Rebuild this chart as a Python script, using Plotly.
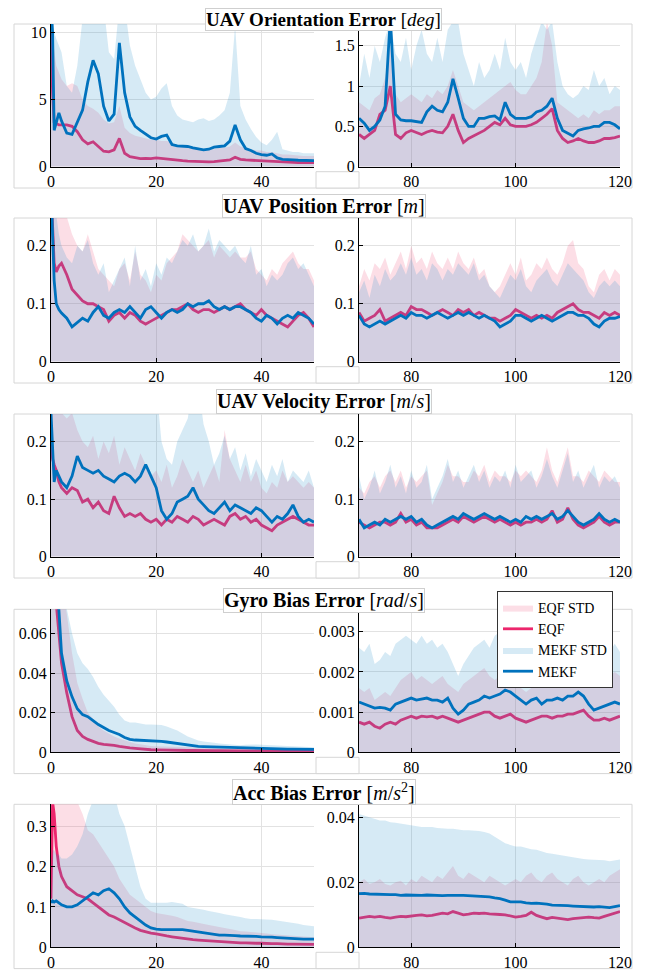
import plotly.graph_objects as go

# ---------------- time grids ----------------
TL = [0, 0.3, 0.6, 1, 1.5, 2, 3, 4, 5, 6, 7, 8, 9, 10,
      11, 12, 13, 14, 15, 16, 17, 18, 19, 20,
      21, 22, 23, 24, 25, 26, 27, 28, 29, 30,
      31, 32, 33, 34, 35, 36, 37, 38, 39, 40,
      41, 42, 43, 44, 45, 46, 47, 48, 49, 50]
TR = [70, 71, 72, 73, 74, 75, 76, 77, 78, 79,
      80, 81, 82, 83, 84, 85, 86, 87, 88, 89,
      90, 91, 92, 93, 94, 95, 96, 97, 98, 99,
      100, 101, 102, 103, 104, 105, 106, 107, 108, 109,
      110, 111, 112, 113, 114, 115, 116, 117, 118, 119,
      120]

# ---------------- UAV orientation error [deg] ----------------
ori_L_eqf_std = [10.5, 9.5, 8.5, 7.5, 7.0,
                 6.5, 6.0, 6.2, 6.0, 5.0, 4.5, 4.3, 4.0, 3.5,
                 3.2, 3.3, 4.5, 2.9, 2.5, 2.3, 2.2, 2.1, 2.0, 2.0,
                 1.9, 1.9, 1.8, 1.6, 1.5, 1.5, 1.4, 1.4, 1.3, 1.3,
                 1.3, 1.4, 1.4, 1.5, 1.8, 1.5, 1.4, 1.3, 1.2, 1.2,
                 1.1, 1.1, 1.0, 0.9, 0.9, 0.85, 0.85, 0.8, 0.8, 0.8]
ori_L_eqf = [10.0, 5.5, 3.3, 3.2, 3.1,
             3.1, 3.1, 3.0, 2.6, 2.0, 1.7, 1.85, 1.5, 1.15,
             1.1, 1.25, 2.1, 1.0, 0.75, 0.65, 0.6, 0.62, 0.6, 0.65,
             0.6, 0.58, 0.55, 0.5, 0.45, 0.42, 0.4, 0.38, 0.37, 0.36,
             0.38, 0.42, 0.45, 0.5, 0.7, 0.55, 0.5, 0.48, 0.45, 0.45,
             0.42, 0.4, 0.35, 0.32, 0.3, 0.3, 0.3, 0.3, 0.3, 0.3]
ori_L_mekf_std = [12, 11, 10, 9.5, 9,
                  8.5, 6, 5.5, 7.5, 11, 12, 12, 12, 12,
                  8.5, 8, 12, 12, 9, 7.5, 6.5, 5.5, 5, 5.2,
                  5.8, 6.2, 4.5, 3.8, 3.5, 3.4, 3.3, 3.5, 3.6, 3.4,
                  3.5, 3.8, 4.2, 5.5, 10.5, 4.5, 3.5, 2.8, 2.2, 1.8,
                  1.6, 2.0, 2.6, 1.3, 1.2, 1.1, 1.1, 1.0, 1.0, 1.0]
ori_L_mekf = [12, 10, 2.7, 3.2, 4.0,
              3.4, 2.5, 2.4, 3.3, 4.2, 6.3, 7.9, 6.9, 4.5,
              3.4, 3.9, 9.2, 5.5, 3.7, 3.0, 2.7, 2.4, 2.15, 2.05,
              2.25, 2.35, 1.65, 1.55, 1.55, 1.5, 1.4, 1.3, 1.25, 1.3,
              1.45, 1.5, 1.55, 1.9, 3.1, 2.0, 1.35, 1.2, 1.0, 0.9,
              0.85, 0.95, 0.65, 0.55, 0.5, 0.5, 0.48, 0.47, 0.45, 0.45]

ori_R_eqf_std = [0.8, 0.75, 0.7, 0.85, 0.9, 1.1, 1.5, 0.9, 0.8, 0.85,
                 0.9, 0.85, 0.8, 0.9, 0.85, 0.95, 0.9, 1.0, 1.2, 1.0,
                 0.8, 0.75, 0.7, 0.75, 0.8, 0.85, 0.9, 0.95, 1.0, 1.05,
                 0.95, 0.9, 0.9, 1.0, 1.1, 1.3, 1.8, 1.5, 0.8, 0.75,
                 0.7, 0.65, 0.6, 0.65, 0.6, 0.7, 0.65, 0.7, 0.7, 0.75,
                 0.75]
ori_R_eqf = [0.4, 0.35, 0.4, 0.45, 0.65, 0.7, 1.0, 0.4, 0.35, 0.42,
             0.45, 0.42, 0.4, 0.43, 0.45, 0.43, 0.42, 0.5, 0.65, 0.45,
             0.3, 0.35, 0.38, 0.42, 0.45, 0.5, 0.55, 0.52, 0.6, 0.52,
             0.5, 0.5, 0.5, 0.52, 0.55, 0.6, 0.65, 0.72, 0.45, 0.35,
             0.3, 0.32, 0.35, 0.32, 0.3, 0.3, 0.32, 0.35, 0.35, 0.36,
             0.38]
ori_R_mekf_std = [1.0, 1.4, 1.1, 1.5, 1.3, 1.6, 1.8, 1.4, 1.3, 1.6,
                  1.2, 1.5, 1.7, 1.4, 1.3, 1.6, 1.3, 1.7, 1.8, 1.8,
                  1.4, 1.2, 1.0, 1.3, 1.1, 1.2, 1.4, 1.2, 1.6, 1.3,
                  1.2, 1.3, 1.1, 1.4, 1.6, 1.8, 1.7, 1.8, 1.3, 1.0,
                  0.9, 0.85, 0.9, 1.0, 0.95, 1.2, 1.0, 1.1, 0.9, 1.0,
                  0.95]
ori_R_mekf = [0.6, 0.54, 0.45, 0.5, 0.58, 0.75, 1.85, 0.65, 0.58, 0.57,
              0.57, 0.56, 0.55, 0.68, 0.75, 0.7, 0.68, 0.8, 1.09, 0.85,
              0.6, 0.5, 0.5, 0.6, 0.6, 0.62, 0.63, 0.58, 0.8, 0.65,
              0.6, 0.6, 0.6, 0.62, 0.68, 0.7, 0.75, 0.85, 0.6, 0.45,
              0.42, 0.38, 0.45, 0.47, 0.48, 0.5, 0.5, 0.55, 0.55, 0.52,
              0.47]

# ---------------- UAV position error [m] ----------------
pos_L_eqf_std = [0.3, 0.3, 0.3, 0.28, 0.28,
                 0.27, 0.25, 0.22, 0.2, 0.19, 0.22, 0.19, 0.16, 0.15,
                 0.14, 0.13, 0.16, 0.17, 0.14, 0.19, 0.15, 0.14, 0.12, 0.15,
                 0.14, 0.17, 0.18, 0.19, 0.22, 0.21, 0.2, 0.19, 0.2, 0.21,
                 0.18, 0.2, 0.19, 0.18, 0.19, 0.18, 0.18, 0.19, 0.16, 0.15,
                 0.14, 0.16, 0.15, 0.17, 0.18, 0.19, 0.17, 0.16, 0.16, 0.14]
pos_L_eqf = [0.3, 0.22, 0.17, 0.155, 0.165,
             0.17, 0.15, 0.125, 0.115, 0.105, 0.1, 0.1, 0.095, 0.09,
             0.07, 0.08, 0.085, 0.075, 0.085, 0.08, 0.07, 0.065, 0.07, 0.075,
             0.08, 0.085, 0.09, 0.09, 0.095, 0.1, 0.09, 0.085, 0.09, 0.09,
             0.085, 0.09, 0.095, 0.09, 0.095, 0.1, 0.09, 0.085, 0.08, 0.09,
             0.08, 0.075, 0.07, 0.065, 0.06, 0.07, 0.08, 0.085, 0.075, 0.06]
pos_L_mekf_std = [0.3, 0.3, 0.28, 0.25, 0.22,
                  0.2, 0.18, 0.17, 0.2, 0.19, 0.21, 0.17, 0.15, 0.17,
                  0.12, 0.14, 0.16, 0.18, 0.13, 0.2, 0.14, 0.16, 0.13, 0.17,
                  0.15, 0.18, 0.17, 0.19, 0.21, 0.2, 0.22, 0.19, 0.2, 0.23,
                  0.19, 0.21, 0.2, 0.19, 0.2, 0.18, 0.17, 0.2, 0.15, 0.16,
                  0.13, 0.15, 0.14, 0.15, 0.17, 0.18, 0.16, 0.17, 0.15, 0.13]
pos_L_mekf = [0.3, 0.2, 0.14, 0.1, 0.09,
              0.084, 0.075, 0.06, 0.068, 0.075, 0.07, 0.085, 0.095, 0.08,
              0.075, 0.085, 0.09, 0.085, 0.095, 0.085, 0.075, 0.09, 0.095, 0.085,
              0.075, 0.085, 0.09, 0.085, 0.09, 0.1, 0.095, 0.1, 0.1, 0.105,
              0.095, 0.09, 0.095, 0.09, 0.095, 0.095, 0.09, 0.085, 0.075, 0.07,
              0.08, 0.075, 0.065, 0.075, 0.08, 0.075, 0.085, 0.08, 0.075, 0.065]

pos_R_eqf_std = [0.13, 0.16, 0.14, 0.17, 0.16, 0.18, 0.15, 0.17, 0.19, 0.16,
                 0.2, 0.17, 0.18, 0.16, 0.19, 0.17, 0.16, 0.18, 0.16, 0.19,
                 0.17, 0.16, 0.18, 0.15, 0.16, 0.13, 0.12, 0.13, 0.15, 0.17,
                 0.15, 0.18, 0.14, 0.15, 0.17, 0.16, 0.18, 0.16, 0.15, 0.17,
                 0.2, 0.21, 0.17, 0.16, 0.13, 0.12, 0.15, 0.16, 0.14, 0.16,
                 0.15]
pos_R_eqf = [0.085, 0.07, 0.075, 0.08, 0.09, 0.07, 0.075, 0.08, 0.085, 0.08,
             0.095, 0.09, 0.09, 0.085, 0.08, 0.085, 0.09, 0.085, 0.08, 0.09,
             0.085, 0.09, 0.08, 0.085, 0.08, 0.075, 0.075, 0.07, 0.075, 0.08,
             0.09, 0.085, 0.08, 0.075, 0.08, 0.075, 0.08, 0.075, 0.085, 0.09,
             0.095, 0.1, 0.09, 0.085, 0.085, 0.08, 0.075, 0.085, 0.08, 0.085,
             0.08]
pos_R_mekf_std = [0.12, 0.14, 0.11, 0.15, 0.13, 0.16, 0.14, 0.15, 0.17, 0.15,
                  0.18, 0.15, 0.16, 0.14, 0.17, 0.16, 0.14, 0.16, 0.15, 0.17,
                  0.16, 0.15, 0.17, 0.14, 0.15, 0.13, 0.12, 0.11, 0.13, 0.15,
                  0.14, 0.16, 0.13, 0.12, 0.14, 0.15, 0.16, 0.14, 0.13, 0.15,
                  0.17, 0.16, 0.15, 0.14, 0.12, 0.11, 0.13, 0.14, 0.13, 0.14,
                  0.13]
pos_R_mekf = [0.08, 0.065, 0.06, 0.065, 0.07, 0.065, 0.07, 0.075, 0.08, 0.075,
              0.085, 0.08, 0.08, 0.075, 0.08, 0.085, 0.08, 0.075, 0.08, 0.085,
              0.08, 0.085, 0.08, 0.075, 0.08, 0.075, 0.07, 0.06, 0.065, 0.07,
              0.08, 0.08, 0.075, 0.07, 0.075, 0.08, 0.075, 0.07, 0.075, 0.08,
              0.085, 0.085, 0.08, 0.08, 0.075, 0.065, 0.06, 0.07, 0.075, 0.075,
              0.078]

# ---------------- UAV velocity error [m/s] ----------------
vel_L_eqf_std = [0.3, 0.3, 0.29, 0.27, 0.26,
                 0.25, 0.24, 0.25, 0.22, 0.2, 0.19, 0.21, 0.17, 0.2,
                 0.18, 0.21, 0.16, 0.19, 0.17, 0.15, 0.18, 0.16, 0.14, 0.15,
                 0.13, 0.16, 0.12, 0.14, 0.17, 0.15, 0.13, 0.15, 0.12, 0.14,
                 0.16, 0.13, 0.22, 0.17, 0.15, 0.13, 0.16, 0.13, 0.15, 0.12,
                 0.11, 0.13, 0.12, 0.15, 0.13, 0.14, 0.13, 0.12, 0.13, 0.12]
vel_L_eqf = [0.2, 0.17, 0.16, 0.15, 0.13,
             0.12, 0.11, 0.12, 0.115, 0.095, 0.1, 0.085, 0.095, 0.08,
             0.075, 0.105, 0.085, 0.07, 0.075, 0.07, 0.075, 0.065, 0.06, 0.065,
             0.055, 0.065, 0.06, 0.07, 0.065, 0.06, 0.07, 0.065, 0.055, 0.06,
             0.065, 0.06, 0.055, 0.07, 0.075, 0.065, 0.07, 0.06, 0.065, 0.055,
             0.05, 0.045, 0.055, 0.06, 0.065, 0.07, 0.065, 0.06, 0.055, 0.055]
vel_L_mekf_std = [0.3, 0.3, 0.3, 0.3, 0.3,
                  0.3, 0.3, 0.3, 0.3, 0.3, 0.3, 0.3, 0.3, 0.3,
                  0.3, 0.3, 0.3, 0.3, 0.3, 0.3, 0.3, 0.3, 0.3, 0.3,
                  0.2, 0.17, 0.16, 0.2, 0.22, 0.24, 0.3, 0.3, 0.23, 0.2,
                  0.16, 0.18, 0.21, 0.17, 0.19, 0.15, 0.18, 0.14, 0.17, 0.15,
                  0.13, 0.16, 0.14, 0.17, 0.13, 0.15, 0.14, 0.13, 0.15, 0.12]
vel_L_mekf = [0.25, 0.2, 0.13, 0.15, 0.14,
              0.13, 0.12, 0.14, 0.175, 0.155, 0.15, 0.145, 0.15, 0.14,
              0.135, 0.13, 0.14, 0.145, 0.14, 0.13, 0.14, 0.16, 0.14, 0.12,
              0.08, 0.065, 0.075, 0.095, 0.1, 0.105, 0.12, 0.1, 0.09, 0.08,
              0.075, 0.085, 0.095, 0.08, 0.09, 0.085, 0.08, 0.075, 0.085, 0.08,
              0.07, 0.06, 0.07, 0.065, 0.075, 0.09, 0.07, 0.06, 0.065, 0.06]

vel_R_eqf_std = [0.12, 0.11, 0.13, 0.14, 0.12, 0.14, 0.15, 0.13, 0.15, 0.12,
                 0.14, 0.13, 0.14, 0.15, 0.09, 0.11, 0.13, 0.16, 0.14, 0.14,
                 0.13, 0.13, 0.15, 0.14, 0.16, 0.13, 0.15, 0.14, 0.14, 0.13,
                 0.15, 0.14, 0.15, 0.14, 0.13, 0.15, 0.19, 0.15, 0.13, 0.16,
                 0.19, 0.14, 0.14, 0.13, 0.15, 0.14, 0.13, 0.15, 0.14, 0.13,
                 0.13]
vel_R_eqf = [0.06, 0.055, 0.05, 0.055, 0.06, 0.06, 0.055, 0.06, 0.075, 0.06,
             0.065, 0.055, 0.06, 0.05, 0.05, 0.05, 0.055, 0.06, 0.065, 0.06,
             0.07, 0.065, 0.06, 0.065, 0.07, 0.065, 0.06, 0.065, 0.06, 0.055,
             0.06, 0.055, 0.06, 0.06, 0.065, 0.06, 0.065, 0.08, 0.06, 0.065,
             0.085, 0.065, 0.055, 0.05, 0.055, 0.06, 0.07, 0.06, 0.055, 0.06,
             0.06]
vel_R_mekf_std = [0.14, 0.1, 0.12, 0.15, 0.11, 0.13, 0.16, 0.12, 0.14, 0.11,
                  0.15, 0.12, 0.13, 0.16, 0.1, 0.12, 0.14, 0.17, 0.13, 0.15,
                  0.12, 0.14, 0.16, 0.13, 0.15, 0.12, 0.14, 0.13, 0.15, 0.12,
                  0.16, 0.13, 0.14, 0.15, 0.12, 0.14, 0.17, 0.14, 0.12, 0.15,
                  0.18, 0.13, 0.15, 0.12, 0.14, 0.16, 0.12, 0.14, 0.13, 0.14,
                  0.12]
vel_R_mekf = [0.065, 0.05, 0.055, 0.06, 0.055, 0.065, 0.06, 0.065, 0.07, 0.065,
              0.07, 0.06, 0.065, 0.055, 0.05, 0.055, 0.06, 0.065, 0.07, 0.065,
              0.075, 0.07, 0.065, 0.07, 0.075, 0.07, 0.065, 0.07, 0.065, 0.06,
              0.065, 0.06, 0.07, 0.065, 0.07, 0.065, 0.07, 0.075, 0.065, 0.07,
              0.08, 0.07, 0.06, 0.055, 0.06, 0.065, 0.075, 0.065, 0.06, 0.065,
              0.06]

# ---------------- Gyro bias error [rad/s] ----------------
gyr_L_eqf_std = [0.09, 0.09, 0.09, 0.09, 0.09,
                 0.085, 0.07, 0.05, 0.035, 0.027, 0.02, 0.017, 0.013, 0.011,
                 0.0095, 0.008, 0.007, 0.006, 0.0052, 0.0045, 0.004, 0.0035, 0.0032, 0.003,
                 0.0029, 0.0028, 0.0027, 0.0026, 0.0025, 0.0024, 0.0023, 0.0022, 0.0021, 0.002,
                 0.002, 0.002, 0.0019, 0.0019, 0.0019, 0.0019, 0.0018, 0.0018, 0.0018, 0.0018,
                 0.0017, 0.0017, 0.0017, 0.0016, 0.0016, 0.0016, 0.0016, 0.0015, 0.0015, 0.0015]
gyr_L_eqf = [0.09, 0.088, 0.082, 0.075, 0.06,
             0.045, 0.03, 0.018, 0.011, 0.008, 0.0065, 0.0055, 0.0045, 0.004,
             0.0038, 0.0035, 0.003, 0.0025, 0.0022, 0.002, 0.0017, 0.0015, 0.0013, 0.0012,
             0.0011, 0.0011, 0.001, 0.001, 0.0009, 0.0009, 0.0009, 0.0008, 0.0008, 0.0008,
             0.0008, 0.0008, 0.0007, 0.0007, 0.0007, 0.0007, 0.0007, 0.0007, 0.0007, 0.0007,
             0.0006, 0.0006, 0.0006, 0.0006, 0.0006, 0.0006, 0.0006, 0.0006, 0.0006, 0.0006]
gyr_L_mekf_std = [0.09, 0.09, 0.09, 0.09, 0.09,
                  0.085, 0.072, 0.06, 0.05, 0.045, 0.042, 0.038, 0.033, 0.029,
                  0.026, 0.023, 0.019, 0.016, 0.015, 0.015, 0.0145, 0.014, 0.014, 0.014,
                  0.0138, 0.013, 0.012, 0.011, 0.0095, 0.008, 0.007, 0.006, 0.0055, 0.005,
                  0.0048, 0.0045, 0.0042, 0.004, 0.0037, 0.0035, 0.0038, 0.004, 0.0039, 0.0038,
                  0.0037, 0.0035, 0.0033, 0.0031, 0.003, 0.003, 0.0029, 0.0028, 0.0026, 0.0025]
gyr_L_mekf = [0.09, 0.09, 0.085, 0.08, 0.072,
              0.05, 0.036, 0.028, 0.022, 0.019, 0.018, 0.016, 0.014, 0.0125,
              0.011, 0.01, 0.009, 0.0075, 0.0065, 0.0062, 0.0061, 0.006, 0.006, 0.0058,
              0.0055, 0.0052, 0.0048, 0.0045, 0.0041, 0.0038, 0.0034, 0.003, 0.0029, 0.0028,
              0.0027, 0.0026, 0.0025, 0.0024, 0.0022, 0.0021, 0.002, 0.002, 0.0019, 0.0019,
              0.0018, 0.0018, 0.0017, 0.0017, 0.0016, 0.0016, 0.0015, 0.0015, 0.0015, 0.0015]

gyr_R_eqf_std = [0.0016, 0.0015, 0.0016, 0.0013, 0.0014, 0.0015, 0.0014, 0.0016, 0.0018, 0.0019,
                 0.002, 0.0018, 0.0019, 0.0018, 0.0017, 0.0018, 0.0019, 0.0017, 0.0016, 0.0015,
                 0.0017, 0.0018, 0.0019, 0.002, 0.0021, 0.0019, 0.0018, 0.0019, 0.002, 0.0019,
                 0.0017, 0.0016, 0.0015, 0.0016, 0.0018, 0.0019, 0.0018, 0.0017, 0.0019, 0.002,
                 0.0019, 0.002, 0.0021, 0.0023, 0.0019, 0.0016, 0.0017, 0.0018, 0.0019, 0.002,
                 0.0019]
gyr_R_eqf = [0.00075, 0.0007, 0.00075, 0.00065, 0.0006, 0.0007, 0.00075, 0.0007, 0.0008, 0.00085,
             0.0009, 0.00085, 0.0009, 0.00088, 0.0009, 0.00085, 0.0009, 0.00085, 0.0008, 0.00075,
             0.0008, 0.00085, 0.0009, 0.00095, 0.001, 0.001, 0.0009, 0.00085, 0.0009, 0.00095,
             0.00085, 0.0008, 0.00075, 0.0008, 0.00085, 0.0009, 0.0009, 0.00085, 0.0009, 0.0009,
             0.00095, 0.00095, 0.001, 0.00105, 0.0009, 0.0008, 0.0008, 0.00085, 0.0008, 0.00085,
             0.0009]
gyr_R_mekf_std = [0.0026, 0.0025, 0.0027, 0.0022, 0.0023, 0.0025, 0.0024, 0.0027, 0.0028, 0.0029,
                  0.0028, 0.0027, 0.0029, 0.0027, 0.0028, 0.0026, 0.0027, 0.0025, 0.0022, 0.0019,
                  0.0022, 0.0024, 0.0026, 0.0027, 0.0028, 0.0026, 0.0029, 0.003, 0.0031, 0.0029,
                  0.0028, 0.0026, 0.0025, 0.0024, 0.0026, 0.0025, 0.0023, 0.0024, 0.0026, 0.0025,
                  0.0027, 0.0028, 0.0029, 0.0028, 0.0025, 0.0022, 0.0023, 0.0024, 0.0025, 0.0027,
                  0.0025]
gyr_R_mekf = [0.00125, 0.0012, 0.00115, 0.0011, 0.00112, 0.0011, 0.00105, 0.0012, 0.00125, 0.0013,
              0.00135, 0.0013, 0.00132, 0.00135, 0.0013, 0.0013, 0.00125, 0.00135, 0.0011, 0.00095,
              0.00105, 0.0012, 0.00125, 0.0013, 0.0014, 0.00135, 0.0014, 0.00145, 0.00155, 0.0015,
              0.0014, 0.0013, 0.0012, 0.0013, 0.00135, 0.0012, 0.0013, 0.0013, 0.00135, 0.0013,
              0.0014, 0.0014, 0.0015, 0.0014, 0.0012, 0.00105, 0.0011, 0.00115, 0.0012, 0.00125,
              0.0012]

# ---------------- Acc bias error [m/s^2] ----------------
acc_L_eqf_std = [0.12, 0.4, 0.4, 0.4, 0.4,
                 0.4, 0.4, 0.38, 0.36, 0.33, 0.29, 0.28, 0.26, 0.24,
                 0.22, 0.2, 0.17, 0.15, 0.13, 0.12, 0.11, 0.1, 0.09, 0.085,
                 0.083, 0.08, 0.078, 0.075, 0.07, 0.065, 0.063, 0.06, 0.058, 0.055,
                 0.053, 0.05, 0.048, 0.045, 0.043, 0.04, 0.039, 0.038, 0.037, 0.035,
                 0.034, 0.032, 0.031, 0.03, 0.029, 0.028, 0.028, 0.027, 0.026, 0.025]
acc_L_eqf = [0.12, 0.36, 0.33, 0.25, 0.2,
             0.175, 0.15, 0.14, 0.13, 0.125, 0.12, 0.11, 0.1, 0.09,
             0.08, 0.075, 0.068, 0.06, 0.055, 0.048, 0.042, 0.038, 0.035, 0.033,
             0.03, 0.028, 0.026, 0.024, 0.022, 0.02, 0.019, 0.018, 0.017, 0.016,
             0.015, 0.014, 0.013, 0.012, 0.012, 0.011, 0.011, 0.01, 0.01, 0.01,
             0.009, 0.009, 0.009, 0.008, 0.008, 0.008, 0.008, 0.007, 0.007, 0.007]
acc_L_mekf_std = [0.12, 0.24, 0.24, 0.23, 0.23,
                  0.22, 0.22, 0.23, 0.25, 0.28, 0.33, 0.37, 0.4, 0.4,
                  0.4, 0.38, 0.33, 0.3, 0.25, 0.2, 0.15, 0.12, 0.11, 0.11,
                  0.11, 0.11, 0.112, 0.11, 0.108, 0.1, 0.098, 0.095, 0.093, 0.09,
                  0.088, 0.085, 0.082, 0.08, 0.078, 0.075, 0.072, 0.07, 0.07, 0.07,
                  0.069, 0.068, 0.066, 0.065, 0.063, 0.06, 0.058, 0.055, 0.053, 0.052]
acc_L_mekf = [0.11, 0.115, 0.112, 0.115, 0.11,
              0.105, 0.1, 0.1, 0.105, 0.115, 0.125, 0.135, 0.13, 0.14,
              0.145, 0.135, 0.12, 0.1, 0.085, 0.075, 0.065, 0.055, 0.048, 0.045,
              0.044, 0.044, 0.045, 0.045, 0.044, 0.042, 0.04, 0.037, 0.035, 0.033,
              0.032, 0.03, 0.03, 0.03, 0.029, 0.028, 0.028, 0.027, 0.027, 0.026,
              0.026, 0.025, 0.024, 0.023, 0.022, 0.021, 0.021, 0.02, 0.02, 0.02]

acc_R_eqf_std = [0.02, 0.021, 0.0195, 0.02, 0.021, 0.0195, 0.019, 0.02, 0.0205, 0.019,
                 0.021, 0.02, 0.022, 0.021, 0.02, 0.022, 0.021, 0.023, 0.025, 0.022,
                 0.021, 0.023, 0.022, 0.021, 0.02, 0.022, 0.021, 0.02, 0.019, 0.02,
                 0.021, 0.02, 0.022, 0.023, 0.021, 0.02, 0.022, 0.023, 0.021, 0.02,
                 0.019, 0.021, 0.022, 0.02, 0.019, 0.02, 0.021, 0.02, 0.022, 0.023,
                 0.024]
acc_R_eqf = [0.009, 0.0092, 0.0095, 0.0093, 0.0095, 0.0092, 0.009, 0.0093, 0.0095, 0.0094,
             0.0095, 0.0098, 0.01, 0.0097, 0.0098, 0.0102, 0.0105, 0.0103, 0.011, 0.0105,
             0.01, 0.0102, 0.0105, 0.0104, 0.0105, 0.0103, 0.0103, 0.0101, 0.01, 0.0096,
             0.0093, 0.0095, 0.0098, 0.0108, 0.0098, 0.0093, 0.0088, 0.0092, 0.009, 0.0087,
             0.0085, 0.0088, 0.009, 0.0092, 0.0093, 0.0091, 0.009, 0.0095, 0.01, 0.0105,
             0.011]
acc_R_mekf_std = [0.041, 0.0405, 0.04, 0.0395, 0.039, 0.039, 0.0385, 0.0383, 0.038, 0.0378,
                  0.0375, 0.0372, 0.037, 0.037, 0.037, 0.0367, 0.0365, 0.0365, 0.0365, 0.0362,
                  0.036, 0.036, 0.036, 0.0358, 0.0355, 0.035, 0.034, 0.033, 0.032, 0.0315,
                  0.031, 0.031, 0.0305, 0.0302, 0.03, 0.0295, 0.029, 0.0288, 0.0285, 0.0282,
                  0.028, 0.0278, 0.0275, 0.0272, 0.027, 0.027, 0.027, 0.0268, 0.0265, 0.0268,
                  0.027]
acc_R_mekf = [0.0165, 0.0166, 0.0164, 0.0163, 0.0164, 0.0163, 0.0162, 0.0162, 0.016, 0.0161,
              0.016, 0.0159, 0.016, 0.0161, 0.016, 0.016, 0.0159, 0.016, 0.0161, 0.016,
              0.016, 0.0159, 0.016, 0.0158, 0.0157, 0.0155, 0.0152, 0.015, 0.0145, 0.014,
              0.014, 0.014, 0.0137, 0.0135, 0.0136, 0.0135, 0.0133, 0.013, 0.013, 0.0129,
              0.0128, 0.0127, 0.0126, 0.0125, 0.0125, 0.0124, 0.0125, 0.0123, 0.0122, 0.0125,
              0.0128]

# ---------------- titles & axis ticks ----------------
row_titles = ["<b>UAV Orientation Error</b> [<i>deg</i>]",
              "<b>UAV Position Error</b> [<i>m</i>]",
              "<b>UAV Velocity Error</b> [<i>m</i>/<i>s</i>]",
              "<b>Gyro Bias Error</b> [<i>rad</i>/<i>s</i>]",
              "<b>Acc Bias Error</b> [<i>m</i>/<i>s</i><sup>2</sup>]"]
xticks_L = [0, 20, 40]
xticks_R = [80, 100, 120]
yticks_L = [[0, 5, 10], [0, 0.1, 0.2], [0, 0.1, 0.2], [0, 0.02, 0.04, 0.06], [0, 0.1, 0.2, 0.3]]
ytext_L = [["0", "5", "10"], ["0", "0.1", "0.2"], ["0", "0.1", "0.2"],
           ["0", "0.02", "0.04", "0.06"], ["0", "0.1", "0.2", "0.3"]]
yticks_R = [[0, 0.5, 1, 1.5], [0, 0.1, 0.2], [0, 0.1, 0.2], [0, 0.001, 0.002, 0.003], [0, 0.02, 0.04]]
ytext_R = [["0", "0.5", "1", "1.5"], ["0", "0.1", "0.2"], ["0", "0.1", "0.2"],
           ["0", "0.001", "0.002", "0.003"], ["0", "0.02", "0.04"]]
ymax_L = [10.6, 0.248, 0.248, 0.0722, 0.354]
ymax_R = [1.77, 0.248, 0.248, 0.00356, 0.044]

left_data = [(ori_L_eqf_std, ori_L_eqf, ori_L_mekf_std, ori_L_mekf),
             (pos_L_eqf_std, pos_L_eqf, pos_L_mekf_std, pos_L_mekf),
             (vel_L_eqf_std, vel_L_eqf, vel_L_mekf_std, vel_L_mekf),
             (gyr_L_eqf_std, gyr_L_eqf, gyr_L_mekf_std, gyr_L_mekf),
             (acc_L_eqf_std, acc_L_eqf, acc_L_mekf_std, acc_L_mekf)]
right_data = [(ori_R_eqf_std, ori_R_eqf, ori_R_mekf_std, ori_R_mekf),
              (pos_R_eqf_std, pos_R_eqf, pos_R_mekf_std, pos_R_mekf),
              (vel_R_eqf_std, vel_R_eqf, vel_R_mekf_std, vel_R_mekf),
              (gyr_R_eqf_std, gyr_R_eqf, gyr_R_mekf_std, gyr_R_mekf),
              (acc_R_eqf_std, acc_R_eqf, acc_R_mekf_std, acc_R_mekf)]

# ---------------- styling ----------------
# the page body adds an 8px margin, so the figure is drawn 8px smaller and
# all window positions below are shifted by that offset
OFF = 8
W, H = 651 - OFF, 975 - OFF
FONT = "Liberation Serif"
EQF_LINE = "rgb(236,38,108)"
MEKF_LINE = "rgb(0,114,189)"
EQF_FILL = "rgba(240,90,130,0.2)"
MEKF_FILL = "rgba(50,150,205,0.2)"
GRID = "#e2e2e2"
BOXC = "#d6d6d6"

row_top = [24, 218, 414, 609.3, 804.3]
row_bot = [166.7, 361.7, 556.7, 752.3, 947.3]
title_y = [19.5, 206, 401, 600, 792]
title_size = [19, 20, 20, 20, 20]
xL = (51, 314)
xR = (359, 620)


def px(x):
    return (x - OFF) / W


def py(y):
    return 1 - (y - OFF) / H


fig = go.Figure()
layout = {}
shapes = []
annotations = []

idx = 0
for r in range(5):
    for side in range(2):
        idx += 1
        ax = "" if idx == 1 else str(idx)
        if side == 0:
            t = TL
            d = left_data[r]
            dom = xL
            xr = [0, 50]
            xt = xticks_L
            yr = [0, ymax_L[r]]
            yt, ytt = yticks_L[r], ytext_L[r]
        else:
            t = TR
            d = right_data[r]
            dom = xR
            xr = [70, 120]
            xt = xticks_R
            yr = [0, ymax_R[r]]
            yt, ytt = yticks_R[r], ytext_R[r]
        show = (r == 3 and side == 1)
        xa, ya = "x" + ax, "y" + ax
        fig.add_trace(go.Scatter(x=t, y=d[0], xaxis=xa, yaxis=ya, mode="lines",
                                 line=dict(width=0, color=EQF_FILL), fill="tozeroy",
                                 fillcolor=EQF_FILL, name="EQF STD", showlegend=show,
                                 hoverinfo="skip"))
        fig.add_trace(go.Scatter(x=t, y=d[1], xaxis=xa, yaxis=ya, mode="lines",
                                 line=dict(width=2.8, color=EQF_LINE), name="EQF",
                                 showlegend=show))
        fig.add_trace(go.Scatter(x=t, y=d[2], xaxis=xa, yaxis=ya, mode="lines",
                                 line=dict(width=0, color=MEKF_FILL), fill="tozeroy",
                                 fillcolor=MEKF_FILL, name="MEKF STD", showlegend=show,
                                 hoverinfo="skip"))
        fig.add_trace(go.Scatter(x=t, y=d[3], xaxis=xa, yaxis=ya, mode="lines",
                                 line=dict(width=2.8, color=MEKF_LINE), name="MEKF",
                                 showlegend=show))
        common = dict(showline=True, linecolor="black", linewidth=1, ticks="inside",
                      ticklen=4, tickcolor="black", showgrid=True, gridcolor=GRID,
                      gridwidth=1, zeroline=False, automargin=False,
                      tickfont=dict(family=FONT, size=16, color="black"))
        layout["xaxis" + ax] = dict(domain=[px(dom[0]), px(dom[1])], range=xr,
                                    tickvals=xt, ticktext=[str(v) for v in xt],
                                    anchor=ya, **common)
        layout["yaxis" + ax] = dict(domain=[py(row_bot[r]), py(row_top[r])], range=yr,
                                    tickvals=yt, ticktext=ytt, anchor=xa, **common)

    # light grey figure boxes like the exported original
    top, bot = row_top[r], row_bot[r] + 21.3
    shapes.append(dict(type="rect", xref="paper", yref="paper", x0=px(14), x1=px(632),
                       y0=py(bot), y1=py(top), line=dict(color=BOXC, width=1),
                       layer="below"))
    shapes.append(dict(type="rect", xref="paper", yref="paper", x0=px(316), x1=px(359),
                       y0=py(bot), y1=py(row_bot[r] + 5), line=dict(color=BOXC, width=1),
                       fillcolor="white", layer="below"))
    annotations.append(dict(text=row_titles[r], xref="paper", yref="paper",
                            x=px(323.5), y=py(title_y[r]), showarrow=False,
                            xanchor="center", yanchor="middle",
                            font=dict(family=FONT, size=title_size[r], color="black"),
                            bgcolor="white", bordercolor="#cfcfcf", borderwidth=1,
                            borderpad=0))

fig.update_layout(**layout)
fig.update_layout(
    width=W, height=H, autosize=False,
    margin=dict(l=0, r=0, t=0, b=0, autoexpand=False),
    paper_bgcolor="white", plot_bgcolor="rgba(0,0,0,0)",
    shapes=shapes, annotations=annotations,
    showlegend=True,
    legend=dict(x=px(613), y=py(591), xanchor="right", yanchor="top",
                bgcolor="white", bordercolor="#333333", borderwidth=1,
                font=dict(family=FONT, size=14, color="black"),
                tracegroupgap=0, itemwidth=30),
)

fig.write_html("out.html")
